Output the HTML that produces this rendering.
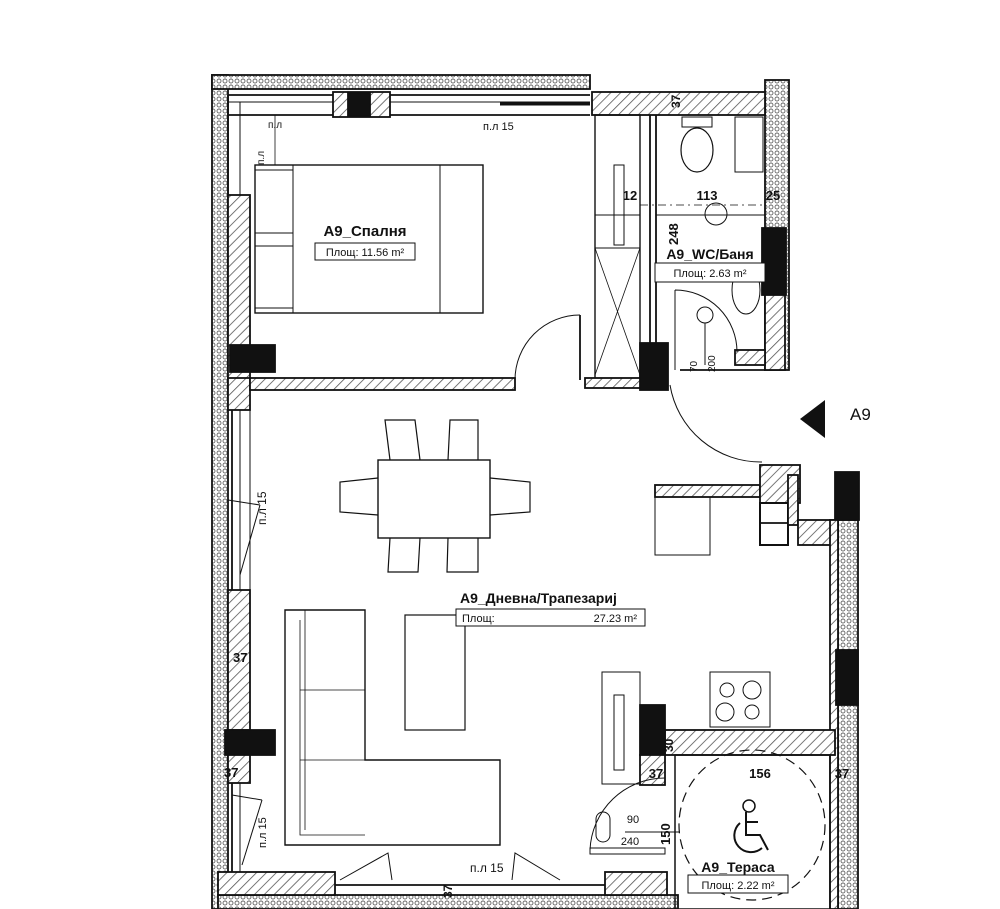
<!DOCTYPE html>
<html><head><meta charset="utf-8"><style>
html,body{margin:0;padding:0;background:#fff}
svg{display:block}
text{font-family:"Liberation Sans",sans-serif;fill:#111}
</style></head><body>
<svg width="1000" height="909" viewBox="0 0 1000 909" xmlns="http://www.w3.org/2000/svg">
<defs>
<pattern id="h" width="7" height="7" patternUnits="userSpaceOnUse" patternTransform="rotate(45)">
<rect width="7" height="7" fill="#fff"/><line x1="0" y1="0" x2="0" y2="7" stroke="#555" stroke-width="1.6"/></pattern>
<pattern id="d" width="6" height="6" patternUnits="userSpaceOnUse">
<rect width="6" height="6" fill="#fff"/><circle cx="3" cy="3" r="2" fill="none" stroke="#666" stroke-width="0.9"/></pattern>
</defs>
<g stroke="#111" stroke-width="1.8" fill="none">
<rect x="212" y="75" width="16" height="834" fill="url(#d)"/>
<rect x="212" y="75" width="378" height="14" fill="url(#d)"/>
<rect x="765" y="80" width="24" height="290" fill="url(#d)"/>
<rect x="838" y="520" width="20" height="389" fill="url(#d)"/>
<rect x="218" y="895" width="460" height="14" fill="url(#d)"/>
<line x1="228" y1="95" x2="590" y2="95"/><line x1="228" y1="102" x2="590" y2="102" stroke-width="1"/>
<line x1="228" y1="115" x2="590" y2="115"/>
<line x1="228" y1="95" x2="228" y2="195"/><line x1="240" y1="102" x2="240" y2="195" stroke-width="1"/>
<rect x="333" y="92" width="57" height="25" fill="url(#h)"/>
<rect x="348" y="93" width="22" height="23" fill="#111"/>
<line x1="500" y1="104" x2="590" y2="104" stroke-width="3"/>
<rect x="592" y="92" width="173" height="23" fill="url(#h)"/>
<rect x="228" y="195" width="22" height="185" fill="url(#h)"/>
<rect x="230" y="345" width="45" height="27" fill="#111"/>
<rect x="228" y="378" width="22" height="32" fill="url(#h)"/>
<line x1="232" y1="410" x2="232" y2="590"/><line x1="240" y1="410" x2="240" y2="590" stroke-width="1"/><line x1="250" y1="410" x2="250" y2="590" stroke-width="1"/>
<rect x="228" y="590" width="22" height="140" fill="url(#h)"/>
<rect x="225" y="730" width="50" height="25" fill="#111"/>
<rect x="228" y="755" width="22" height="28" fill="url(#h)"/>
<line x1="232" y1="783" x2="232" y2="872"/><line x1="240" y1="783" x2="240" y2="872" stroke-width="1"/>
<line x1="228" y1="500" x2="260" y2="505" stroke-width="1"/><line x1="240" y1="575" x2="260" y2="505" stroke-width="1"/>
<line x1="232" y1="795" x2="262" y2="800" stroke-width="1"/><line x1="242" y1="865" x2="262" y2="800" stroke-width="1"/>
<rect x="218" y="872" width="117" height="23" fill="url(#h)"/>
<line x1="335" y1="885" x2="605" y2="885"/><line x1="335" y1="895" x2="605" y2="895" stroke-width="1"/>
<rect x="605" y="872" width="62" height="23" fill="url(#h)"/>
<polyline points="340,880 388,853 392,880" stroke-width="1"/>
<polyline points="560,880 515,853 512,880" stroke-width="1"/>
<rect x="250" y="378" width="265" height="12" fill="url(#h)"/>
<path d="M515 380 A65 65 0 0 1 580 315" stroke-width="1"/>
<line x1="580" y1="315" x2="580" y2="380"/>
<rect x="595" y="115" width="45" height="265" stroke-width="1.4"/>
<line x1="595" y1="215" x2="640" y2="215" stroke-width="1"/>
<line x1="595" y1="248" x2="640" y2="248" stroke-width="1"/>
<line x1="595" y1="248" x2="640" y2="375" stroke-width="0.8"/><line x1="640" y1="248" x2="595" y2="375" stroke-width="0.8"/>
<rect x="614" y="165" width="10" height="80" stroke-width="1"/>
<rect x="585" y="378" width="60" height="10" fill="url(#h)"/>
<line x1="650" y1="115" x2="650" y2="345"/><line x1="656" y1="115" x2="656" y2="380"/>
<rect x="640" y="343" width="28" height="47" fill="#111"/>
<rect x="762" y="228" width="24" height="67" fill="#111"/>
<rect x="765" y="295" width="20" height="75" fill="url(#h)"/>
<rect x="735" y="350" width="30" height="15" fill="url(#h)"/>
<line x1="656" y1="215" x2="765" y2="215" stroke-width="1"/>
<line x1="640" y1="205" x2="765" y2="205" stroke-width="0.8" stroke-dasharray="8 4 2 4"/>
<ellipse cx="697" cy="150" rx="16" ry="22" stroke-width="1.2"/>
<rect x="682" y="117" width="30" height="10" stroke-width="1"/>
<rect x="735" y="117" width="28" height="55" stroke-width="1"/>
<circle cx="716" cy="214" r="11" stroke-width="1"/>
<path d="M675 290 L675 370 M675 290 A62 62 0 0 1 737 352" stroke-width="1"/>
<ellipse cx="746" cy="290" rx="14" ry="24" stroke-width="1"/>
<line x1="680" y1="370" x2="765" y2="370"/>
<circle cx="705" cy="315" r="8" stroke-width="1"/>
<line x1="705" y1="323" x2="705" y2="365" stroke-width="1"/>
<rect x="655" y="263" width="110" height="19" stroke-width="1" fill="#fff"/>
<path d="M670 385 A92 92 0 0 0 762 462" stroke-width="1"/>
<rect x="655" y="485" width="105" height="12" fill="url(#h)"/>
<rect x="655" y="497" width="55" height="58" stroke-width="1"/>
<rect x="760" y="465" width="40" height="38" fill="url(#h)"/>
<rect x="760" y="503" width="28" height="42" stroke-width="2"/>
<line x1="760" y1="523" x2="788" y2="523"/>
<rect x="788" y="475" width="10" height="50" fill="url(#h)"/>
<rect x="798" y="520" width="40" height="25" fill="url(#h)"/>
<rect x="835" y="472" width="24" height="48" fill="#111"/>
<rect x="830" y="520" width="8" height="389" fill="url(#h)"/>
<rect x="836" y="650" width="22" height="55" fill="#111"/>
<rect x="665" y="730" width="170" height="25" fill="url(#h)"/>
<rect x="640" y="705" width="25" height="50" fill="#111"/>
<rect x="640" y="755" width="25" height="30" fill="url(#h)"/>
<rect x="602" y="672" width="38" height="112" stroke-width="1"/>
<rect x="614" y="695" width="10" height="75" stroke-width="1"/>
<rect x="710" y="672" width="60" height="55" stroke-width="1"/>
<circle cx="727" cy="690" r="7" stroke-width="1"/><circle cx="752" cy="690" r="9" stroke-width="1"/>
<circle cx="725" cy="712" r="9" stroke-width="1"/><circle cx="752" cy="712" r="7" stroke-width="1"/>
<rect x="675" y="755" width="155" height="154" stroke-width="1.5"/>
<ellipse cx="752" cy="825" rx="73" ry="75" stroke-dasharray="10 6" stroke-width="1.2"/>
<path d="M590 850 A75 75 0 0 1 665 778" stroke-width="1"/>
<rect x="590" y="848" width="75" height="6" stroke-width="1"/>
<line x1="625" y1="832" x2="680" y2="832" stroke-width="1"/>
<rect x="596" y="812" width="14" height="30" rx="7" stroke-width="1"/>
<circle cx="749" cy="806" r="6" stroke-width="1.5"/>
<path d="M746 812 L746 835 L760 835 L768 850 M746 822 L758 822 M740 823 A16 16 0 1 0 762 848" stroke-width="2"/>
<rect x="688" y="875" width="100" height="18" stroke-width="1" fill="#fff"/>
<rect x="255" y="165" width="228" height="148" stroke-width="1.4"/>
<line x1="440" y1="165" x2="440" y2="313" stroke-width="1"/>
<line x1="293" y1="165" x2="293" y2="313" stroke-width="1"/>
<rect x="255" y="170" width="38" height="63" stroke-width="1"/>
<rect x="255" y="246" width="38" height="62" stroke-width="1"/>
<line x1="275" y1="115" x2="275" y2="165" stroke-width="0.8"/>
<rect x="315" y="243" width="100" height="17" stroke-width="1" fill="#fff"/>
<rect x="378" y="460" width="112" height="78" stroke-width="1.4"/>
<path d="M390 460 L385 420 L415 420 L420 460 M448 460 L450 420 L478 420 L478 460 M390 538 L388 572 L418 572 L420 538 M448 538 L447 572 L478 572 L478 538 M378 478 L340 482 L340 512 L378 515 M490 478 L530 482 L530 512 L490 515" stroke-width="1.2"/>
<path d="M285 610 L365 610 L365 760 L500 760 L500 845 L285 845 Z" stroke-width="1.4"/>
<path d="M300 620 L300 835 L365 835 M300 690 L365 690 M300 760 L365 760 M305 610 L305 830" stroke-width="0.8"/>
<rect x="405" y="615" width="60" height="115" stroke-width="1.2"/>
<rect x="456" y="609" width="189" height="17" stroke-width="1" fill="#fff"/>
<polygon points="800,419 825,400 825,438" fill="#111" stroke="none"/>
</g>
<text x="365" y="236" font-size="15" font-weight="bold" text-anchor="middle">A9_Спалня</text>
<text x="365" y="256" font-size="11" text-anchor="middle">Площ: 11.56 m²</text>
<text x="710" y="259" font-size="14" font-weight="bold" text-anchor="middle">A9_WC/Баня</text>
<text x="710" y="277" font-size="11" text-anchor="middle">Площ: 2.63 m²</text>
<text x="707" y="200" font-size="13" font-weight="bold" text-anchor="middle">113</text>
<text x="630" y="200" font-size="13" font-weight="bold" text-anchor="middle">12</text>
<text x="773" y="200" font-size="13" font-weight="bold" text-anchor="middle">25</text>
<text x="0" y="0" font-size="12" font-weight="bold" transform="translate(680,108) rotate(-90)">37</text>
<text x="0" y="0" font-size="13" font-weight="bold" transform="translate(678,245) rotate(-90)">248</text>
<text x="0" y="0" font-size="10" transform="translate(697,372) rotate(-90)">70</text>
<text x="0" y="0" font-size="10" transform="translate(715,372) rotate(-90)">200</text>
<text x="850" y="420" font-size="17">A9</text>
<text x="460" y="603" font-size="14" font-weight="bold">A9_Дневна/Трапезариј</text>
<text x="462" y="622" font-size="11">Площ:</text>
<text x="637" y="622" font-size="11" text-anchor="end">27.23 m²</text>
<text x="738" y="872" font-size="14" font-weight="bold" text-anchor="middle">A9_Тераса</text>
<text x="738" y="889" font-size="11" text-anchor="middle">Площ: 2.22 m²</text>
<text x="760" y="778" font-size="13" font-weight="bold" text-anchor="middle">156</text>
<text x="656" y="778" font-size="13" font-weight="bold" text-anchor="middle">37</text>
<text x="842" y="778" font-size="13" font-weight="bold" text-anchor="middle">37</text>
<text x="0" y="0" font-size="12" font-weight="bold" transform="translate(673,752) rotate(-90)">30</text>
<text x="0" y="0" font-size="13" font-weight="bold" transform="translate(670,845) rotate(-90)">150</text>
<text x="633" y="823" font-size="11" text-anchor="middle">90</text>
<text x="630" y="845" font-size="11" text-anchor="middle">240</text>
<text x="233" y="662" font-size="13" font-weight="bold">37</text>
<text x="224" y="777" font-size="13" font-weight="bold">37</text>
<text x="470" y="872" font-size="12">п.л 15</text>
<text x="483" y="130" font-size="11">п.л 15</text>
<text x="0" y="0" font-size="12" transform="translate(266,525) rotate(-90)">п.л 15</text>
<text x="0" y="0" font-size="11" transform="translate(266,848) rotate(-90)">п.л 15</text>
<text x="0" y="0" font-size="10" transform="translate(264,165) rotate(-90)">п.л</text>
<text x="268" y="128" font-size="10">п.л</text>
<text x="0" y="0" font-size="12" font-weight="bold" transform="translate(452,898) rotate(-90)">37</text>
</svg>
</body></html>
